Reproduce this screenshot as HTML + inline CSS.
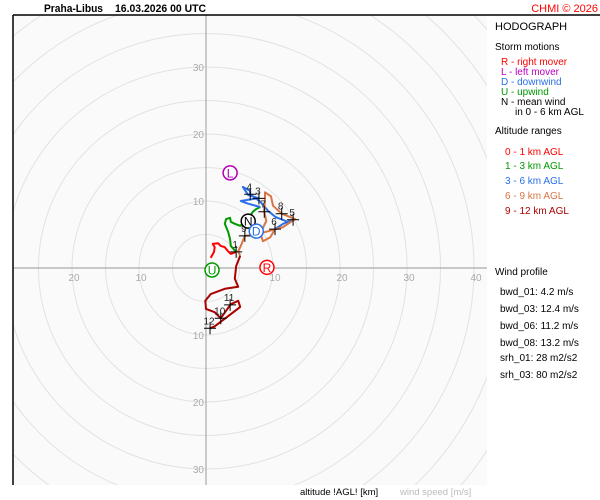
<!DOCTYPE html>
<html><head><meta charset="utf-8"><style>
html,body{margin:0;padding:0;background:#fff;width:600px;height:500px;overflow:hidden;font-family:"Liberation Sans",sans-serif}
svg{display:block;position:absolute;left:0;top:0}
</style></head><body>
<svg id="chart" width="600" height="500" xmlns="http://www.w3.org/2000/svg">
<defs><clipPath id="pc"><rect x="13" y="15" width="474" height="470"/></clipPath></defs>
<rect x="13" y="15" width="474" height="470" fill="#fafafa"/>
<g id="rings" clip-path="url(#pc)"></g>
<g id="axes"></g>
<g id="traces" clip-path="url(#pc)"></g>
<g id="marks"></g>
<line x1="13" y1="15" x2="600" y2="15" stroke="#000" stroke-width="1.5"/>
<line x1="13" y1="15" x2="13" y2="485" stroke="#000" stroke-width="1.5"/>
<text x="44" y="12" font-size="11" font-weight="bold" fill="#000" textLength="59" lengthAdjust="spacingAndGlyphs">Praha-Libus</text>
<text x="115" y="12" font-size="11" font-weight="bold" fill="#000" textLength="91" lengthAdjust="spacingAndGlyphs">16.03.2026 00 UTC</text>
<text x="598" y="12" font-size="11" fill="#f00" text-anchor="end">CHMI © 2026</text>
<g font-size="10">
<text x="495" y="30" font-size="11">HODOGRAPH</text>
<text x="495" y="50">Storm motions</text>
<text x="501" y="65" fill="#f00">R - right mover</text>
<text x="501" y="75" fill="#b0b">L - left mover</text>
<text x="501" y="85" fill="#2a6fe8">D - downwind</text>
<text x="501" y="95" fill="#090">U - upwind</text>
<text x="501" y="105" fill="#000">N - mean wind</text>
<text x="515" y="115" fill="#000">in 0 - 6 km AGL</text>
<text x="495" y="134">Altitude ranges</text>
<text x="505" y="155" fill="#f00">0 - 1 km AGL</text>
<text x="505" y="169" fill="#090">1 - 3 km AGL</text>
<text x="505" y="184" fill="#2a6fe8">3 - 6 km AGL</text>
<text x="505" y="199" fill="#d77545">6 - 9 km AGL</text>
<text x="505" y="214" fill="#a00">9 - 12 km AGL</text>
<text x="495" y="275">Wind profile</text>
<text x="500" y="295">bwd_01: 4.2 m/s</text>
<text x="500" y="312">bwd_03: 12.4 m/s</text>
<text x="500" y="329">bwd_06: 11.2 m/s</text>
<text x="500" y="346">bwd_08: 13.2 m/s</text>
<text x="500" y="361">srh_01: 28 m2/s2</text>
<text x="500" y="378">srh_03: 80 m2/s2</text>
</g>
<text x="300" y="495" font-size="9.5" fill="#000">altitude !AGL! [km]</text>
<text x="400" y="495" font-size="9.5" fill="#bbb">wind speed [m/s]</text>
</svg>
<script>
const ringValues=[5,10,15,20,25,30,35,40,45,50,55,60,65,70];
const xTickLabels=[-20,-10,10,20,30,40];
const yTickLabels=[30,20,10,-10,-20,-30];
const layerNames=["0-1km","1-3km","3-6km","6-9km","9-12km"];
const layerColors=["#ff0000","#009900","#2a6fe8","#d77545","#aa0000"];
const layer0U=[0.7,1.2,1.3,1.0,1.8,2.2,2.8,3.3,3.7,4.5];
const layer0V=[1.5,2.4,3.1,3.6,3.7,3.3,3.1,2.5,2.1,2.4];
const layer1U=[4.5,3.7,3.6,3.3,2.8,3.0,3.6,3.7,4.3,5.1,5.5,6.0,6.6,7.0,7.5,8.1];
const layer1V=[2.4,3.3,4.3,5.4,6.6,7.3,7.5,6.9,6.6,6.3,6.6,7.3,7.8,8.4,8.8,9.1];
const layer2U=[8.1,6.3,5.2,7.0,7.9,6.3,5.5,6.6,6.6,8.1,9.3,10.4,12.2,13.0,11.5,10.3];
const layer2V=[9.1,9.6,10.0,10.3,10.4,10.9,12.1,11.5,11.0,9.9,8.5,7.6,6.9,7.2,6.6,5.8];
const layer3U=[10.3,9.6,8.5,8.1,9.0,8.7,8.8,8.8,9.7,10.0,11.3,13.3,11.5,9.3,7.0,5.8,5.2,4.8,5.1];
const layer3V=[5.8,4.6,4.0,5.2,7.0,8.4,10.3,11.3,10.7,9.3,8.1,7.3,6.1,5.5,4.9,4.8,3.3,2.5,1.8];
const layer4U=[5.1,4.5,4.3,4.8,2.8,0.7,-0.1,0.0,1.3,2.2,3.7,4.8,5.1,3.3,1.3,0.6];
const layer4V=[1.8,0.3,-1.6,-2.8,-3.1,-3.9,-4.9,-6.1,-6.6,-7.5,-5.4,-4.9,-5.8,-7.2,-8.7,-9.0];
const heightLabels=["1","3","4","5","6","7","8","9","10","11","12"];
const heightU=[4.5,7.9,6.6,13.0,10.3,8.7,11.3,5.8,2.2,3.6,0.6];
const heightV=[2.4,10.4,11.0,7.2,5.8,8.4,8.1,4.8,-7.5,-5.5,-9.0];
const stormLetters=["L","N","D","U","R"];
const stormU=[3.6,6.3,7.5,0.9,9.1];
const stormV=[14.2,7.0,5.5,-0.3,0.1];
const stormColors=["#b000b0","#000000","#2a6fe8","#009900","#ff0000"];

const NS="http://www.w3.org/2000/svg";
const CX=206,CY=268,S=6.7;
const xs=u=>CX+u*S, ys=v=>CY-v*S;
function mk(tag,attrs,parent){const e=document.createElementNS(NS,tag);for(const k in attrs)e.setAttribute(k,attrs[k]);parent.appendChild(e);return e;}
const rings=document.getElementById('rings'),axes=document.getElementById('axes'),traces=document.getElementById('traces'),marks=document.getElementById('marks');
ringValues.forEach(r=>{
 const c=mk('circle',{cx:CX,cy:CY,r:r*S,fill:'none',stroke:'#e2e2e2','stroke-width':1},rings);
 
 
});
let l=mk('line',{x1:13,y1:CY,x2:487,y2:CY,stroke:'#aaa','stroke-width':1.2},axes);


l=mk('line',{x1:CX,y1:15,x2:CX,y2:485,stroke:'#aaa','stroke-width':1.2},axes);


xTickLabels.forEach(t=>{
 const e=mk('text',{x:xs(t)+2,y:CY+13,'font-size':10,fill:'#aaa','text-anchor':'middle'},axes);
 e.textContent=Math.abs(t);
 
 
});
yTickLabels.forEach(t=>{
 const e=mk('text',{x:CX-2,y:ys(t)+4,'font-size':10,fill:'#aaa','text-anchor':'end'},axes);
 e.textContent=Math.abs(t);
 
 
});
const LU=[layer0U,layer1U,layer2U,layer3U,layer4U],LV=[layer0V,layer1V,layer2V,layer3V,layer4V];
LU.forEach((us,i)=>{
 const pts=us.map((u,j)=>xs(u).toFixed(1)+','+ys(LV[i][j]).toFixed(1)).join(' ');
 const p=mk('polyline',{points:pts,fill:'none',stroke:layerColors[i],'stroke-width':2,'stroke-linejoin':'round'},traces);
 
 
});
heightLabels.forEach((h,i)=>{
 const x=xs(heightU[i]),y=ys(heightV[i]);
 const g=mk('path',{d:`M${x-6},${y}H${x+6}M${x},${y-6}V${y+6}`,stroke:'#000','stroke-width':1},marks);
 
 
 const t=mk('text',{x:x-1,y:y-4,'font-size':10,fill:'#222','text-anchor':'middle'},marks);
 t.textContent=h;
 
 
});
stormLetters.forEach((s,i)=>{
 const x=xs(stormU[i]),y=ys(stormV[i]);
 const c=mk('circle',{cx:x,cy:y,r:7,fill:'#fff',stroke:stormColors[i],'stroke-width':1.5},marks);
 
 
 const t=mk('text',{x:x,y:y+4.5,'font-size':12,fill:stormColors[i],'text-anchor':'middle'},marks);
 t.textContent=s;
 
 
});
</script>
</body></html>
